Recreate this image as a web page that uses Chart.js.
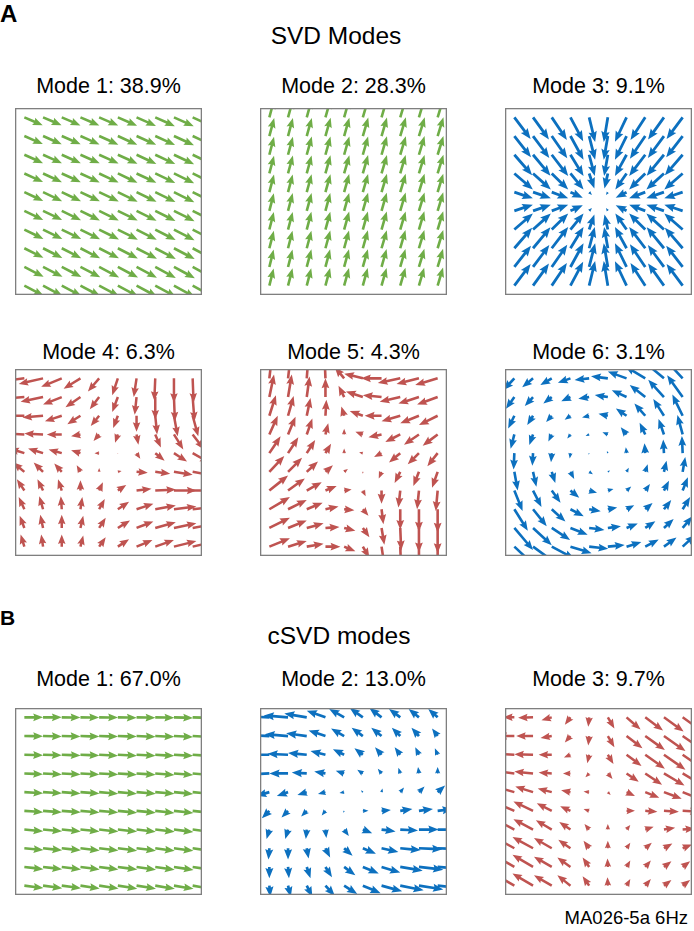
<!DOCTYPE html>
<html>
<head>
<meta charset="utf-8">
<script src="https://cdn.jsdelivr.net/npm/chart.js@4.4.1/dist/chart.umd.min.js"></script>
<style>
  body { margin: 0; background: #fff; }
  #fig { position: relative; width: 694px; height: 931px; overflow: hidden;
         font-family: "Liberation Sans", Arial, sans-serif; color: #000; }
  .t { position: absolute; white-space: nowrap; line-height: 1; }
  .c { transform: translateX(-50%); }
  canvas { position: absolute; }
</style>
</head>
<body>
<div id="fig">
  <div class="t" style="left:0;top:2px;font-size:24px;font-weight:bold">A</div>
  <div class="t c" style="left:336px;top:24px;font-size:24.5px">SVD Modes</div>
  <div class="t" style="left:0;top:607px;font-size:21px;font-weight:bold">B</div>
  <div class="t c" style="left:339px;top:624px;font-size:24.5px">cSVD modes</div>
  <div class="t" style="right:6px;top:909px;font-size:18.5px">MA026-5a 6Hz</div>
</div>
<script>
// quiver fields: rows top -> bottom, columns left -> right, in grid units (v positive = up)
const svdTitles = ['Mode 1: 38.9%', 'Mode 2: 28.3%', 'Mode 3: 9.1%', 'Mode 4: 6.3%', 'Mode 5: 4.3%', 'Mode 6: 3.1%'];
const csvdTitles = ['Mode 1: 67.0%', 'Mode 2: 13.0%', 'Mode 3: 9.7%'];

const svd1U = [
  [0.98,0.99,1.00,1.01,1.02,1.03,1.04,1.05,1.06,1.07],
  [0.99,1.00,1.01,1.02,1.03,1.04,1.05,1.06,1.07,1.08],
  [1.00,1.01,1.02,1.03,1.04,1.05,1.06,1.07,1.08,1.09],
  [1.00,1.01,1.02,1.03,1.04,1.05,1.06,1.07,1.08,1.10],
  [1.01,1.02,1.03,1.04,1.05,1.06,1.07,1.08,1.09,1.10],
  [1.01,1.02,1.03,1.04,1.05,1.06,1.07,1.08,1.10,1.11],
  [1.02,1.03,1.04,1.05,1.06,1.07,1.08,1.09,1.10,1.12],
  [1.02,1.03,1.04,1.05,1.06,1.07,1.09,1.10,1.11,1.12],
  [1.03,1.04,1.05,1.06,1.07,1.08,1.09,1.10,1.12,1.13],
  [1.03,1.04,1.05,1.06,1.07,1.09,1.10,1.11,1.12,1.14]
];
const svd1V = [
  [-0.42,-0.42,-0.43,-0.44,-0.44,-0.45,-0.46,-0.47,-0.48,-0.49],
  [-0.43,-0.44,-0.44,-0.45,-0.46,-0.47,-0.47,-0.48,-0.49,-0.50],
  [-0.45,-0.45,-0.46,-0.46,-0.47,-0.48,-0.49,-0.50,-0.51,-0.52],
  [-0.46,-0.47,-0.47,-0.48,-0.49,-0.50,-0.50,-0.51,-0.52,-0.53],
  [-0.47,-0.48,-0.49,-0.49,-0.50,-0.51,-0.52,-0.53,-0.54,-0.55],
  [-0.49,-0.49,-0.50,-0.51,-0.52,-0.52,-0.53,-0.54,-0.55,-0.56],
  [-0.50,-0.51,-0.51,-0.52,-0.53,-0.54,-0.55,-0.56,-0.57,-0.58],
  [-0.51,-0.52,-0.53,-0.54,-0.54,-0.55,-0.56,-0.57,-0.58,-0.59],
  [-0.53,-0.53,-0.54,-0.55,-0.56,-0.57,-0.58,-0.59,-0.60,-0.61],
  [-0.54,-0.55,-0.55,-0.56,-0.57,-0.58,-0.59,-0.60,-0.61,-0.62]
];

const svd2U = [
  [0.26,0.27,0.27,0.28,0.28,0.29,0.29,0.30,0.30,0.31],
  [0.26,0.26,0.27,0.28,0.28,0.29,0.29,0.30,0.31,0.31],
  [0.25,0.26,0.27,0.27,0.28,0.28,0.29,0.30,0.30,0.31],
  [0.25,0.26,0.26,0.27,0.28,0.28,0.29,0.29,0.30,0.31],
  [0.25,0.25,0.26,0.27,0.27,0.28,0.29,0.29,0.30,0.30],
  [0.24,0.25,0.26,0.26,0.27,0.28,0.28,0.29,0.30,0.30],
  [0.24,0.25,0.25,0.26,0.27,0.27,0.28,0.29,0.29,0.30],
  [0.24,0.24,0.25,0.26,0.26,0.27,0.28,0.28,0.29,0.30],
  [0.23,0.24,0.25,0.25,0.26,0.27,0.27,0.28,0.29,0.29],
  [0.23,0.24,0.24,0.25,0.26,0.26,0.27,0.28,0.28,0.29]
];
const svd2V = [
  [0.97,0.97,0.98,0.98,0.99,0.99,1.00,1.00,1.01,1.01],
  [0.96,0.97,0.97,0.98,0.98,0.99,0.99,1.00,1.00,1.01],
  [0.96,0.96,0.97,0.97,0.98,0.98,0.99,0.99,1.00,1.00],
  [0.95,0.96,0.96,0.97,0.97,0.98,0.98,0.99,0.99,1.00],
  [0.95,0.95,0.96,0.96,0.97,0.97,0.98,0.98,0.99,0.99],
  [0.94,0.95,0.95,0.96,0.96,0.97,0.97,0.98,0.98,0.99],
  [0.94,0.94,0.95,0.95,0.96,0.96,0.97,0.97,0.98,0.98],
  [0.93,0.94,0.94,0.95,0.95,0.96,0.96,0.97,0.97,0.98],
  [0.93,0.93,0.94,0.94,0.95,0.95,0.96,0.96,0.97,0.97],
  [0.92,0.93,0.93,0.94,0.94,0.95,0.95,0.96,0.96,0.97]
];

const svd3U = [
  [0.87,0.85,0.81,0.68,0.32,-0.22,-0.62,-0.79,-0.85,-0.86],
  [0.89,0.87,0.83,0.70,0.32,-0.22,-0.62,-0.82,-0.86,-0.88],
  [0.95,0.93,0.88,0.70,0.30,-0.20,-0.62,-0.86,-0.92,-0.95],
  [0.99,0.95,0.88,0.70,0.28,-0.18,-0.60,-0.86,-0.94,-0.98],
  [0.99,0.95,0.88,0.66,0.15,-0.10,-0.58,-0.86,-0.94,-0.98],
  [0.99,0.95,0.88,0.66,0.15,-0.10,-0.58,-0.86,-0.94,-0.98],
  [0.99,0.95,0.88,0.70,0.28,-0.18,-0.60,-0.86,-0.94,-0.98],
  [0.95,0.93,0.88,0.70,0.30,-0.20,-0.62,-0.86,-0.92,-0.95],
  [0.89,0.87,0.83,0.70,0.32,-0.22,-0.62,-0.82,-0.86,-0.88],
  [0.87,0.85,0.81,0.68,0.32,-0.22,-0.62,-0.79,-0.85,-0.86]
];
const svd3V = [
  [-1.16,-1.18,-1.21,-1.28,-1.32,-1.32,-1.31,-1.21,-1.19,-1.16],
  [-1.14,-1.17,-1.19,-1.27,-1.27,-1.27,-1.27,-1.21,-1.17,-1.14],
  [-1.09,-1.12,-1.14,-1.14,-1.14,-1.14,-1.14,-1.14,-1.12,-1.10],
  [-0.86,-0.86,-0.86,-0.86,-0.80,-0.80,-0.86,-0.86,-0.86,-0.86],
  [-0.33,-0.33,-0.33,-0.30,-0.15,-0.15,-0.30,-0.33,-0.33,-0.33],
  [0.33,0.33,0.33,0.30,0.15,0.15,0.30,0.33,0.33,0.33],
  [0.86,0.86,0.86,0.86,0.80,0.80,0.86,0.86,0.86,0.86],
  [1.09,1.12,1.14,1.14,1.14,1.14,1.14,1.14,1.12,1.10],
  [1.14,1.17,1.19,1.27,1.27,1.27,1.27,1.21,1.17,1.14],
  [1.16,1.18,1.21,1.28,1.32,1.32,1.31,1.21,1.19,1.16]
];

const svd4U = [
  [-1.30,-1.30,-1.10,-0.90,-0.60,-0.30,-0.15,-0.05,0.00,0.05],
  [-1.30,-1.20,-1.00,-0.80,-0.50,-0.30,-0.10,0.00,0.05,0.10],
  [-1.30,-1.10,-0.90,-0.70,-0.45,-0.25,0.00,0.10,0.20,0.30],
  [-1.20,-1.00,-0.80,-0.50,-0.30,-0.15,0.10,0.30,0.50,0.60],
  [-0.80,-0.80,-0.70,-0.50,-0.25,0.00,0.20,0.50,0.70,0.90],
  [-0.60,-0.50,-0.40,-0.20,0.00,0.20,0.60,0.80,1.00,1.10],
  [-0.40,-0.30,-0.20,0.00,0.20,0.45,0.80,1.10,1.20,1.30],
  [-0.30,-0.20,-0.05,0.10,0.30,0.60,0.90,1.10,1.20,1.30],
  [-0.25,-0.15,0.00,0.15,0.35,0.65,0.90,1.10,1.20,1.30],
  [-0.20,-0.10,0.00,0.15,0.35,0.60,0.85,1.00,1.20,1.30]
];
const svd4V = [
  [-0.15,-0.30,-0.45,-0.55,-0.70,-0.90,-1.00,-1.20,-1.30,-1.30],
  [-0.10,-0.25,-0.40,-0.55,-0.65,-0.80,-0.95,-1.20,-1.30,-1.30],
  [0.00,-0.10,-0.30,-0.45,-0.55,-0.65,-0.85,-1.00,-1.10,-1.10],
  [0.05,0.05,0.00,-0.10,-0.35,-0.45,-0.55,-0.70,-0.80,-0.80],
  [0.25,0.25,0.20,0.15,0.00,-0.05,-0.30,-0.40,-0.45,-0.50],
  [0.50,0.50,0.45,0.35,0.20,0.05,-0.05,-0.10,-0.15,-0.20],
  [0.60,0.60,0.60,0.55,0.45,0.30,0.10,0.05,0.00,0.00],
  [0.65,0.70,0.70,0.65,0.55,0.40,0.30,0.20,0.15,0.15],
  [0.65,0.70,0.70,0.65,0.55,0.40,0.35,0.30,0.25,0.25],
  [0.65,0.65,0.65,0.60,0.50,0.40,0.35,0.35,0.30,0.30]
];

const svd5U = [
  [0.15,0.15,0.10,-0.05,-0.50,-1.00,-1.10,-1.20,-1.20,-1.20],
  [0.25,0.20,0.15,0.00,-0.30,-0.90,-1.00,-1.10,-1.10,-1.10],
  [0.35,0.30,0.20,0.05,-0.15,-0.70,-0.90,-1.00,-1.00,-1.00],
  [0.45,0.40,0.30,0.15,0.00,-0.40,-0.70,-0.80,-0.80,-0.80],
  [0.60,0.55,0.45,0.30,0.00,-0.20,-0.40,-0.60,-0.60,-0.55],
  [0.80,0.75,0.60,0.40,0.20,0.00,-0.15,-0.30,-0.30,-0.30],
  [1.00,0.90,0.80,0.60,0.40,0.15,0.00,-0.10,-0.10,-0.10],
  [1.10,1.00,0.85,0.70,0.55,0.30,0.10,0.00,0.00,0.00],
  [1.10,1.00,0.90,0.75,0.60,0.35,0.15,0.05,0.00,0.00],
  [1.10,1.00,0.90,0.80,0.60,0.35,0.15,0.05,0.00,0.00]
];
const svd5V = [
  [1.30,1.30,1.30,1.20,0.60,0.25,0.00,-0.25,-0.30,-0.35],
  [1.20,1.20,1.10,1.00,0.60,0.30,0.10,-0.25,-0.35,-0.40],
  [1.10,1.05,0.95,0.85,0.50,0.25,0.00,-0.30,-0.40,-0.50],
  [1.00,0.95,0.85,0.60,0.30,0.15,-0.15,-0.40,-0.55,-0.60],
  [0.90,0.85,0.70,0.50,0.25,0.05,-0.20,-0.50,-0.60,-0.70],
  [0.85,0.75,0.55,0.35,0.15,-0.10,-0.35,-0.60,-0.75,-0.85],
  [0.80,0.65,0.45,0.25,0.05,-0.30,-0.70,-0.90,-1.00,-1.10],
  [0.65,0.50,0.35,0.15,-0.05,-0.35,-0.80,-1.10,-1.20,-1.25],
  [0.55,0.40,0.25,0.05,-0.15,-0.50,-0.90,-1.20,-1.30,-1.35],
  [0.45,0.30,0.15,0.00,-0.25,-0.60,-1.00,-1.30,-1.40,-1.40]
];

const svd6U = [
  [-0.58,-0.58,-0.61,-0.67,-0.78,-0.90,-1.00,-1.07,-1.10,-1.10],
  [-0.45,-0.44,-0.45,-0.49,-0.58,-0.70,-0.79,-0.83,-0.84,-0.83],
  [-0.33,-0.31,-0.30,-0.31,-0.38,-0.50,-0.57,-0.58,-0.57,-0.55],
  [-0.20,-0.20,-0.18,-0.17,-0.19,-0.29,-0.31,-0.30,-0.29,-0.28],
  [-0.04,-0.04,-0.04,-0.04,-0.03,-0.05,-0.04,-0.04,-0.04,-0.04],
  [0.18,0.18,0.19,0.20,0.20,0.12,0.12,0.13,0.14,0.14],
  [0.44,0.45,0.47,0.47,0.42,0.30,0.25,0.25,0.27,0.28],
  [0.72,0.73,0.73,0.71,0.62,0.50,0.41,0.39,0.39,0.40],
  [1.00,1.00,0.98,0.92,0.82,0.70,0.60,0.54,0.52,0.52],
  [1.26,1.25,1.20,1.13,1.02,0.90,0.79,0.72,0.67,0.66]
];
const svd6V = [
  [-0.62,-0.48,-0.36,-0.24,-0.09,0.11,0.36,0.64,0.92,1.18],
  [-0.63,-0.48,-0.35,-0.23,-0.09,0.11,0.37,0.65,0.92,1.17],
  [-0.68,-0.50,-0.34,-0.21,-0.09,0.11,0.39,0.66,0.90,1.13],
  [-0.77,-0.57,-0.38,-0.21,-0.08,0.12,0.39,0.62,0.83,1.04],
  [-0.88,-0.67,-0.48,-0.28,-0.08,0.12,0.32,0.53,0.73,0.92],
  [-1.00,-0.80,-0.59,-0.38,-0.13,0.07,0.22,0.41,0.60,0.80],
  [-1.09,-0.88,-0.65,-0.39,-0.12,0.08,0.21,0.35,0.53,0.71],
  [-1.15,-0.91,-0.66,-0.38,-0.11,0.09,0.22,0.34,0.49,0.65],
  [-1.18,-0.92,-0.64,-0.36,-0.11,0.09,0.24,0.36,0.48,0.62],
  [-1.18,-0.91,-0.63,-0.35,-0.11,0.09,0.25,0.38,0.49,0.62]
];

const csvd1U = [
  [1.00,1.00,1.00,1.00,1.01,1.01,1.01,1.02,1.02,1.02],
  [1.00,1.00,1.00,1.01,1.01,1.01,1.02,1.02,1.02,1.03],
  [1.00,1.00,1.01,1.01,1.01,1.02,1.02,1.02,1.03,1.03],
  [1.00,1.01,1.01,1.01,1.02,1.02,1.02,1.03,1.03,1.03],
  [1.01,1.01,1.01,1.02,1.02,1.02,1.03,1.03,1.03,1.04],
  [1.01,1.01,1.02,1.02,1.02,1.03,1.03,1.03,1.04,1.04],
  [1.01,1.02,1.02,1.02,1.03,1.03,1.03,1.04,1.04,1.04],
  [1.02,1.02,1.02,1.03,1.03,1.03,1.04,1.04,1.04,1.05],
  [1.02,1.02,1.03,1.03,1.03,1.04,1.04,1.04,1.05,1.05],
  [1.02,1.03,1.03,1.03,1.04,1.04,1.04,1.05,1.05,1.05]
];
const csvd1V = [
  [0.00,0.00,-0.01,-0.01,-0.01,-0.02,-0.02,-0.02,-0.03,-0.03],
  [-0.01,-0.02,-0.02,-0.03,-0.03,-0.03,-0.04,-0.04,-0.05,-0.05],
  [-0.03,-0.03,-0.04,-0.04,-0.05,-0.05,-0.05,-0.06,-0.06,-0.07],
  [-0.04,-0.05,-0.05,-0.06,-0.06,-0.07,-0.07,-0.08,-0.08,-0.09],
  [-0.06,-0.06,-0.07,-0.07,-0.08,-0.08,-0.09,-0.09,-0.10,-0.10],
  [-0.07,-0.08,-0.08,-0.09,-0.09,-0.10,-0.10,-0.11,-0.11,-0.12],
  [-0.09,-0.09,-0.10,-0.10,-0.11,-0.11,-0.12,-0.12,-0.13,-0.13],
  [-0.10,-0.11,-0.11,-0.12,-0.12,-0.13,-0.13,-0.14,-0.14,-0.15],
  [-0.12,-0.12,-0.13,-0.13,-0.14,-0.14,-0.15,-0.15,-0.16,-0.16],
  [-0.13,-0.14,-0.14,-0.15,-0.15,-0.16,-0.16,-0.17,-0.17,-0.18]
];

const csvd2U = [
  [-1.30,-1.30,-1.20,-1.00,-0.80,-0.70,-0.65,-0.60,-0.55,-0.50],
  [-1.30,-1.25,-1.10,-0.90,-0.70,-0.60,-0.55,-0.45,-0.40,-0.30],
  [-1.20,-1.10,-1.00,-0.80,-0.60,-0.45,-0.35,-0.30,-0.20,-0.15],
  [-1.10,-1.00,-0.80,-0.60,-0.45,-0.30,-0.20,-0.10,-0.05,0.00],
  [-0.70,-0.60,-0.50,-0.40,-0.25,-0.10,0.05,0.20,0.30,0.40],
  [-0.40,-0.35,-0.30,-0.20,-0.05,0.30,0.50,0.65,0.75,0.80],
  [-0.15,-0.15,-0.05,0.05,0.25,0.50,0.75,0.95,1.05,1.10],
  [-0.05,0.00,0.10,0.25,0.45,0.70,0.90,1.10,1.25,1.30],
  [0.00,0.05,0.20,0.35,0.60,0.85,1.00,1.20,1.30,1.30],
  [0.05,0.15,0.30,0.50,0.70,0.95,1.10,1.25,1.30,1.30]
];
const csvd2V = [
  [0.05,0.10,0.20,0.35,0.45,0.50,0.50,0.45,0.45,0.45],
  [0.05,0.10,0.15,0.30,0.40,0.45,0.45,0.45,0.45,0.40],
  [0.00,0.05,0.10,0.20,0.30,0.35,0.40,0.40,0.40,0.35],
  [-0.05,0.00,0.05,0.10,0.15,0.20,0.25,0.30,0.35,0.35],
  [-0.20,-0.20,-0.15,-0.10,-0.05,0.10,0.20,0.25,0.30,0.35],
  [-0.40,-0.35,-0.30,-0.25,-0.10,0.00,0.05,0.10,0.10,0.10],
  [-0.50,-0.50,-0.50,-0.45,-0.35,-0.20,-0.10,-0.05,0.00,0.00],
  [-0.60,-0.60,-0.55,-0.50,-0.40,-0.30,-0.20,-0.10,-0.05,-0.05],
  [-0.60,-0.60,-0.60,-0.55,-0.45,-0.35,-0.30,-0.20,-0.15,-0.10],
  [-0.60,-0.60,-0.60,-0.55,-0.45,-0.40,-0.30,-0.25,-0.20,-0.15]
];

const csvd3U = [
  [-0.60,-0.80,-0.55,-0.30,-0.05,0.35,0.75,0.95,1.05,1.05],
  [-0.90,-0.90,-0.60,-0.30,-0.05,0.35,0.85,1.05,1.15,1.15],
  [-1.00,-1.00,-0.70,-0.35,-0.10,0.30,0.80,1.05,1.15,1.15],
  [-1.10,-1.00,-0.70,-0.40,-0.20,0.25,0.65,0.90,1.10,1.10],
  [-1.05,-0.95,-0.75,-0.50,-0.30,0.15,0.45,0.75,0.95,1.00],
  [-1.15,-1.05,-0.80,-0.55,-0.30,0.02,0.45,0.65,0.80,0.90],
  [-1.15,-1.05,-0.85,-0.60,-0.25,0.00,0.20,0.45,0.60,0.65],
  [-1.20,-1.10,-0.95,-0.65,-0.30,0.00,0.20,0.35,0.45,0.50],
  [-1.20,-1.10,-0.95,-0.70,-0.35,-0.02,0.20,0.30,0.40,0.40],
  [-1.20,-1.10,-0.95,-0.70,-0.35,-0.02,0.20,0.30,0.40,0.40]
];
const csvd3V = [
  [0.00,-0.02,-0.15,-0.40,-0.50,-0.60,-0.65,-0.70,-0.75,-0.75],
  [0.00,0.00,-0.10,-0.35,-0.50,-0.60,-0.65,-0.75,-0.80,-0.80],
  [0.05,0.03,0.00,-0.15,-0.45,-0.50,-0.60,-0.75,-0.80,-0.80],
  [0.15,0.10,0.05,0.00,-0.20,-0.30,-0.45,-0.60,-0.65,-0.65],
  [0.30,0.30,0.20,0.10,0.03,-0.15,-0.20,-0.30,-0.35,-0.40],
  [0.50,0.50,0.40,0.25,0.10,0.02,0.00,-0.05,-0.05,-0.05],
  [0.60,0.55,0.50,0.40,0.30,0.30,0.25,0.15,0.10,0.05],
  [0.65,0.60,0.55,0.45,0.40,0.40,0.30,0.30,0.25,0.20],
  [0.70,0.65,0.55,0.50,0.50,0.45,0.35,0.35,0.30,0.30],
  [0.70,0.65,0.55,0.55,0.50,0.45,0.35,0.35,0.30,0.30]
];

const GREEN = '#6fad47';
const BLUE = '#0c70bf';
const RED = '#bf5350';

const panels = [
  { title: svdTitles[0], U: svd1U, V: svd1V, color: GREEN, left: 15,  top: 108, shaft: 2.6 },
  { title: svdTitles[1], U: svd2U, V: svd2V, color: GREEN, left: 260, top: 108, shaft: 2.6 },
  { title: svdTitles[2], U: svd3U, V: svd3V, color: BLUE,  left: 505, top: 108, shaft: 2.8 },
  { title: svdTitles[3], U: svd4U, V: svd4V, color: RED,   left: 15,  top: 369, shaft: 2.5 },
  { title: svdTitles[4], U: svd5U, V: svd5V, color: RED,   left: 260, top: 369, shaft: 2.6 },
  { title: svdTitles[5], U: svd6U, V: svd6V, color: BLUE,  left: 505, top: 369, shaft: 2.6 },
  { title: csvdTitles[0], U: csvd1U, V: csvd1V, color: GREEN, left: 15,  top: 708, shaft: 2.6 },
  { title: csvdTitles[1], U: csvd2U, V: csvd2V, color: BLUE,  left: 260, top: 708, shaft: 2.7 },
  { title: csvdTitles[2], U: csvd3U, V: csvd3V, color: RED,   left: 505, top: 708, shaft: 2.5 }
];
const titleGap = [14, 9, 21]; // px between title baseline and box top, per row
const TITLE_SIZE = 21.5;
const BOX = 187;

function field(U, V) {
  const pts = [];
  for (let r = 0; r < 10; r++) {
    for (let c = 0; c < 10; c++) {
      pts.push({ x: c, y: 9 - r, u: U[r][c], v: V[r][c] });
    }
  }
  return pts;
}

// quiver-style arrow: head width 3, head length 3.8, head axis length 3.4 (in shaft widths)
function drawArrow(ctx, x0, y0, x1, y1, shaft) {
  const dx = x1 - x0, dy = y1 - y0;
  const len = Math.hypot(dx, dy);
  if (len < 0.6) return;
  const w = shaft * Math.min(1, len / (3.8 * shaft));
  const hl = 3.8 * w, ha = 3.4 * w, hw = 1.5 * w;
  ctx.save();
  ctx.translate(x0, y0);
  ctx.rotate(Math.atan2(dy, dx));
  ctx.beginPath();
  ctx.moveTo(0, -w / 2);
  ctx.lineTo(len - ha, -w / 2);
  ctx.lineTo(len - hl, -hw);
  ctx.lineTo(len, 0);
  ctx.lineTo(len - hl, hw);
  ctx.lineTo(len - ha, w / 2);
  ctx.lineTo(0, w / 2);
  ctx.closePath();
  ctx.fill();
  ctx.restore();
}

const quiverPlugin = {
  id: 'quiver',
  afterDatasetsDraw(chart) {
    const { ctx, chartArea: a, scales: { x, y } } = chart;
    ctx.save();
    ctx.beginPath();
    ctx.rect(a.left, a.top, a.right - a.left, a.bottom - a.top);
    ctx.clip();
    chart.data.datasets.forEach(ds => {
      ctx.fillStyle = ds.arrowColor;
      ds.data.forEach(p => {
        drawArrow(ctx,
          x.getPixelForValue(p.x), y.getPixelForValue(p.y),
          x.getPixelForValue(p.x + p.u), y.getPixelForValue(p.y + p.v),
          ds.shaft);
      });
    });
    ctx.restore();
    // axes frame
    ctx.save();
    ctx.strokeStyle = '#7f7f7f';
    ctx.lineWidth = 1.3;
    ctx.strokeRect(a.left + 0.65, a.top + 0.65, a.right - a.left - 1.3, a.bottom - a.top - 1.3);
    ctx.restore();
  }
};

const fig = document.getElementById('fig');

panels.forEach((p, i) => {
  const title = document.createElement('div');
  title.className = 't c';
  title.textContent = p.title;
  title.style.fontSize = TITLE_SIZE + 'px';
  title.style.left = (p.left + BOX / 2) + 'px';
  title.style.top = (p.top - titleGap[Math.floor(i / 3)] - 0.8465 * TITLE_SIZE) + 'px';
  fig.appendChild(title);

  const cv = document.createElement('canvas');
  cv.width = BOX;
  cv.height = BOX;
  cv.style.left = p.left + 'px';
  cv.style.top = p.top + 'px';
  fig.appendChild(cv);

  new Chart(cv, {
    type: 'scatter',
    data: {
      datasets: [{
        data: field(p.U, p.V),
        pointRadius: 0,
        arrowColor: p.color,
        shaft: p.shaft
      }]
    },
    options: {
      responsive: false,
      animation: false,
      events: [],
      layout: { padding: 0 },
      plugins: { legend: { display: false }, tooltip: { enabled: false } },
      scales: {
        x: { type: 'linear', min: -0.5, max: 9.5, display: false },
        y: { type: 'linear', min: -0.5, max: 9.5, display: false }
      }
    },
    plugins: [quiverPlugin]
  });
});
</script>
</body>
</html>
